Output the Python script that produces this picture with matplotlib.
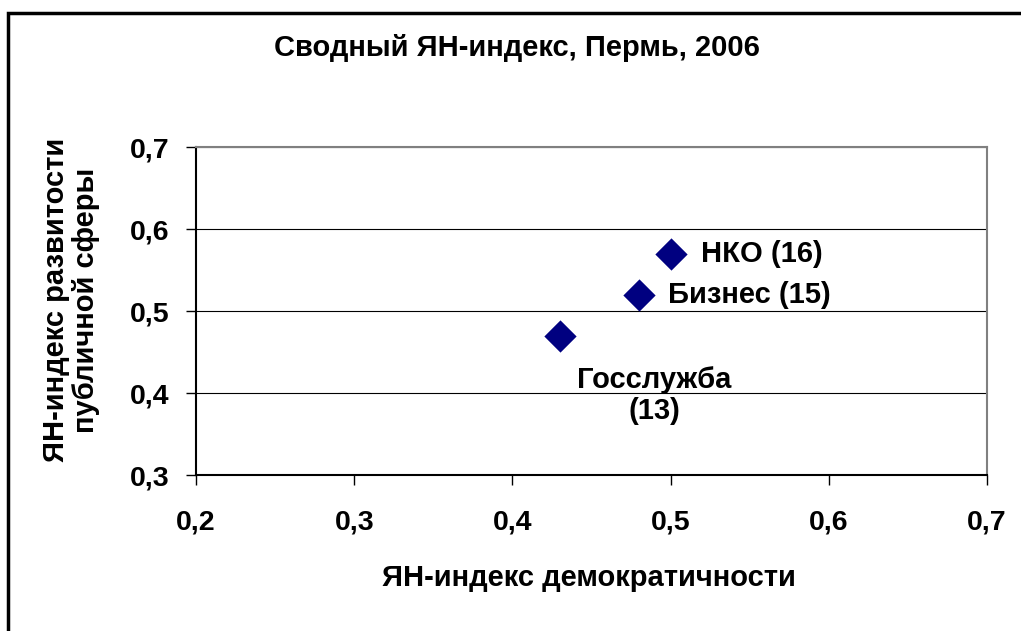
import matplotlib
matplotlib.use("Agg")
import matplotlib.pyplot as plt
from matplotlib.patches import Rectangle

plt.rcParams['font.family'] = ['Liberation Sans', 'DejaVu Sans']
plt.rcParams['font.weight'] = 'bold'

# Data
labels = ["НКО (16)", "Бизнес (15)", "Госслужба\n(13)"]
x_vals = [0.50, 0.48, 0.43]
y_vals = [0.57, 0.52, 0.47]
x_ticks = [0.2, 0.3, 0.4, 0.5, 0.6, 0.7]
y_ticks = [0.3, 0.4, 0.5, 0.6, 0.7]
title = "Сводный ЯН-индекс, Пермь, 2006"
xlabel = "ЯН-индекс демократичности"
ylabel = "ЯН-индекс развитости\nпубличной сферы"

W, H = 1021, 631
fig = plt.figure(figsize=(W / 100, H / 100), dpi=100)
fig.patch.set_facecolor('white')

# outer frame
fig.patches.append(Rectangle((8 / W, -0.05), 1.2, 1 - 13 / H + 0.05,
                             transform=fig.transFigure, fill=False,
                             edgecolor='black', linewidth=2.5))

left, right, top, bottom = 196, 987, 147, 475
ax = fig.add_axes([left / W, 1 - bottom / H, (right - left) / W, (bottom - top) / H])

ax.scatter(x_vals, y_vals, marker='D', s=270, color='#000080', zorder=3, linewidths=0)

ax.set_xlim(0.2, 0.7)
ax.set_ylim(0.3, 0.7)
ax.set_xticks(x_ticks)
ax.set_yticks(y_ticks)
fmt = lambda v: f"{v:.1f}".replace('.', ',')
ax.set_xticklabels([fmt(v) for v in x_ticks], fontsize=20.5, fontweight='bold')
ax.set_yticklabels([fmt(v) for v in y_ticks], fontsize=20.5, fontweight='bold')
ax.tick_params(axis='x', direction='out', length=7, width=1, pad=18, colors='black')
ax.tick_params(axis='y', direction='out', length=7, width=1, pad=12, colors='black')
ax.grid(axis='y', color='black', linewidth=0.8)
ax.set_axisbelow(True)

for s in ['top', 'right']:
    ax.spines[s].set_color('#808080')
    ax.spines[s].set_linewidth(1.5)
for s in ['left', 'bottom']:
    ax.spines[s].set_color('black')
    ax.spines[s].set_linewidth(1.5)

fs = 21
# annotations
ax.annotate(labels[0], (x_vals[0], y_vals[0]), xytext=(22, 0), textcoords='offset points',
            ha='left', va='center', fontsize=fs, fontweight='bold')
ax.annotate(labels[1], (x_vals[1], y_vals[1]), xytext=(21, 0), textcoords='offset points',
            ha='left', va='center', fontsize=fs, fontweight='bold')
ax.annotate(labels[2], (x_vals[2], y_vals[2]), xytext=(68, -22), textcoords='offset points',
            ha='center', va='top', fontsize=fs, fontweight='bold', linespacing=1.15)

fig.text(517 / W, 1 - 48 / H, title, ha='center', va='center', fontsize=fs, fontweight='bold')
fig.text(589 / W, 1 - 578 / H, xlabel, ha='center', va='center', fontsize=fs, fontweight='bold')
fig.text(71 / W, 1 - 300 / H, ylabel, ha='center', va='center', rotation=90,
         fontsize=fs, fontweight='bold', linespacing=1.05)

fig.savefig("out.png", dpi=100)
